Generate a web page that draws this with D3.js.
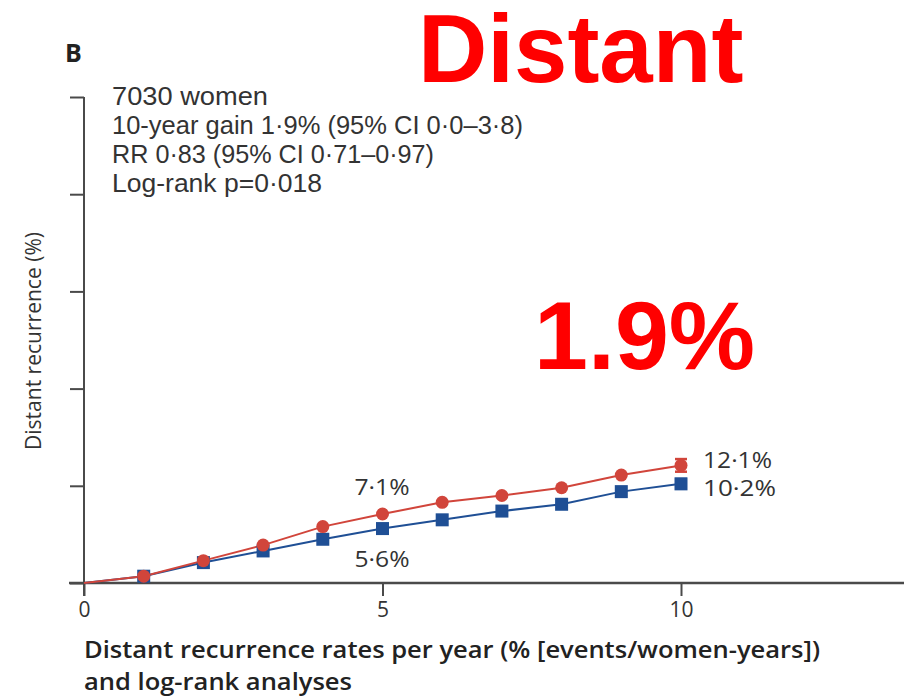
<!DOCTYPE html>
<html>
<head>
<meta charset="utf-8">
<script src="https://cdn.jsdelivr.net/npm/d3@7"></script>
<style>
  html, body { margin: 0; padding: 0; background: #fff; }
  svg { display: block; }
</style>
</head>
<body>
<svg id="chart" width="904" height="698" font-family="'Open Sans', 'Noto Sans', sans-serif"></svg>
<script>
// Years since randomisation
const years = [0, 1, 2, 3, 4, 5, 6, 7, 8, 9, 10];
// Cumulative distant recurrence (%), control arm (red circles)
const controlRisk = [0, 0.7, 2.3, 3.9, 5.8, 7.1, 8.3, 9.0, 9.8, 11.1, 12.1];
// Cumulative distant recurrence (%), treated arm (blue squares)
const treatedRisk = [0, 0.7, 2.1, 3.3, 4.5, 5.6, 6.5, 7.4, 8.1, 9.4, 10.2];
// Standard errors at 10 years
const controlSE10 = 0.65;
const treatedSE10 = 0.5;
// Axis ticks
const xTicks = [0, 5, 10];
const yTicks = [0, 10, 20, 30, 40, 50];
// Text block
const summaryLines = [
  "7030 women",
  "10-year gain 1·9% (95% CI 0·0–3·8)",
  "RR 0·83 (95% CI 0·71–0·97)",
  "Log-rank p=0·018"
];
const summaryWidths = [156, 411, 322, 210];
const pointLabels = [
  { text: "7·1%", year: 5, value: 7.1, series: "control", width: 55 },
  { text: "5·6%", year: 5, value: 5.6, series: "treated", width: 55 },
  { text: "12·1%", year: 10, value: 12.1, series: "control", width: 69 },
  { text: "10·2%", year: 10, value: 10.2, series: "treated", width: 73 }
];

const svg = d3.select("#chart");
const red = "#d1453b";
const blue = "#1f4f95";
const axisColor = "#4a4a4a";
const textColor = "#333";

const x = d3.scaleLinear().domain([0, 10]).range([84, 681]);
const y = d3.scaleLinear().domain([0, 50]).range([583, 97]);

// Axes
const yAxis = d3.axisLeft(y).tickValues(yTicks).tickSize(14).tickFormat("");
const gy = svg.append("g").attr("transform", `translate(${x(0)},0)`).call(yAxis);
gy.select(".domain").remove();
gy.selectAll(".tick line").attr("stroke", axisColor).attr("stroke-width", 2);
svg.append("line")
  .attr("x1", x(0)).attr("x2", x(0))
  .attr("y1", y(50)).attr("y2", y(0) + 13)
  .attr("stroke", axisColor).attr("stroke-width", 2);

const xAxis = d3.axisBottom(x).tickValues(xTicks).tickSize(13).tickPadding(6);
const gx = svg.append("g").attr("transform", `translate(0,${y(0)})`).call(xAxis);
gx.select(".domain").remove();
gx.selectAll(".tick line").attr("stroke", axisColor).attr("stroke-width", 2);
gx.selectAll(".tick text")
  .attr("font-size", 21)
  .attr("font-family", "'Open Sans', sans-serif")
  .attr("fill", textColor);
svg.append("line")
  .attr("x1", x(0) - 15).attr("x2", 904)
  .attr("y1", y(0)).attr("y2", y(0))
  .attr("stroke", axisColor).attr("stroke-width", 2.5);

// Series
const line = d3.line().x((d, i) => x(years[i])).y(d => y(d));

svg.append("path").datum(treatedRisk)
  .attr("d", line).attr("fill", "none")
  .attr("stroke", blue).attr("stroke-width", 2);
svg.append("path").datum(controlRisk)
  .attr("d", line).attr("fill", "none")
  .attr("stroke", red).attr("stroke-width", 2);

// Error bars at 10 years
function errorBar(value, se, color) {
  const cx = x(10);
  const g = svg.append("g").attr("stroke", color).attr("stroke-width", 2.5);
  g.append("line").attr("x1", cx).attr("x2", cx).attr("y1", y(value - se)).attr("y2", y(value + se));
  g.append("line").attr("x1", cx - 6).attr("x2", cx + 6).attr("y1", y(value - se)).attr("y2", y(value - se));
  g.append("line").attr("x1", cx - 6).attr("x2", cx + 6).attr("y1", y(value + se)).attr("y2", y(value + se));
}
errorBar(treatedRisk[10], treatedSE10, blue);
errorBar(controlRisk[10], controlSE10, red);

const sq = 13;
svg.append("g").selectAll("rect")
  .data(treatedRisk.slice(1))
  .join("rect")
  .attr("x", (d, i) => x(years[i + 1]) - sq / 2)
  .attr("y", d => y(d) - sq / 2)
  .attr("width", sq).attr("height", sq)
  .attr("fill", blue);

svg.append("g").selectAll("circle")
  .data(controlRisk.slice(1))
  .join("circle")
  .attr("cx", (d, i) => x(years[i + 1]))
  .attr("cy", d => y(d))
  .attr("r", 6.5)
  .attr("fill", red);

// Value labels: mid-way labels sit above/below the year-5 points,
// end labels sit to the right of the year-10 points
pointLabels.forEach(p => {
  let tx, ty;
  if (p.year === 5) {
    tx = x(p.year) - 28;
    ty = p.series === "control" ? y(p.value) - 19 : y(p.value) + 38;
  } else {
    tx = x(p.year) + 22;
    ty = p.series === "control" ? y(p.value) + 3 : y(p.value) + 12;
  }
  svg.append("text")
    .attr("x", tx).attr("y", ty)
    .attr("font-size", 21)
    .attr("fill", textColor)
    .attr("textLength", p.width).attr("lengthAdjust", "spacingAndGlyphs")
    .text(p.text);
});

// Panel letter
svg.append("text").attr("x", 65).attr("y", 62)
  .attr("font-size", 25).attr("font-weight", "bold")
  .attr("fill", "#222").text("B");

// Summary text block
svg.append("g").selectAll("text")
  .data(summaryLines)
  .join("text")
  .attr("x", 112)
  .attr("y", (d, i) => 105 + i * 29)
  .attr("font-family", "'Liberation Sans', Arial, sans-serif")
  .attr("font-size", 25)
  .attr("fill", textColor)
  .attr("textLength", (d, i) => summaryWidths[i])
  .attr("lengthAdjust", "spacingAndGlyphs")
  .text(d => d);

// Axis titles
svg.append("text")
  .attr("transform", `translate(41,${(232 + 450) / 2}) rotate(-90)`)
  .attr("text-anchor", "middle")
  .attr("font-size", 21)
  .attr("fill", textColor)
  .attr("textLength", 218).attr("lengthAdjust", "spacingAndGlyphs")
  .text("Distant recurrence (%)");

svg.append("text")
  .attr("x", 84).attr("y", 658)
  .attr("font-size", 24).attr("font-weight", 600)
  .attr("fill", "#222")
  .attr("textLength", 736).attr("lengthAdjust", "spacingAndGlyphs")
  .text("Distant recurrence rates per year (% [events/women-years])");
svg.append("text")
  .attr("x", 84).attr("y", 690)
  .attr("font-size", 24).attr("font-weight", 600)
  .attr("fill", "#222")
  .attr("textLength", 268).attr("lengthAdjust", "spacingAndGlyphs")
  .text("and log-rank analyses");

// Headline overlays
svg.append("text")
  .attr("x", 418).attr("y", 82)
  .attr("font-family", "'Liberation Sans', Arial, sans-serif")
  .attr("font-size", 96).attr("font-weight", "bold")
  .attr("fill", "#ff0000")
  .text("Distant");
svg.append("text")
  .attr("x", 534).attr("y", 369)
  .attr("font-family", "'Liberation Sans', Arial, sans-serif")
  .attr("font-size", 97).attr("font-weight", "bold")
  .attr("fill", "#ff0000")
  .text("1.9%");
</script>
</body>
</html>
